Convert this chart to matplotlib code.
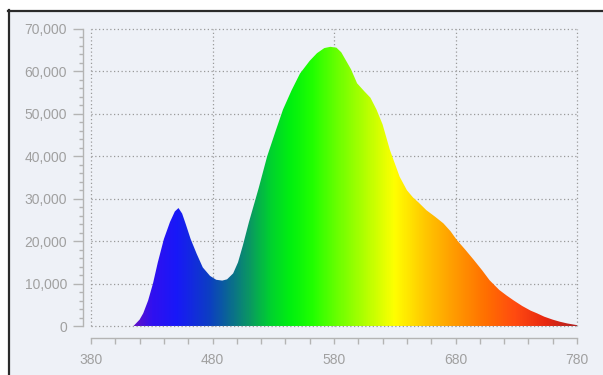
import numpy as np
import matplotlib
matplotlib.use("Agg")
import matplotlib.pyplot as plt
from matplotlib.colors import LinearSegmentedColormap
from matplotlib.patches import Polygon, Rectangle
from matplotlib.ticker import MultipleLocator, FuncFormatter

# ---- data ----
wavelength = [415, 420, 423, 427, 431, 435, 440, 445, 449, 452, 455, 458, 462, 467,
              472, 478, 483, 488, 492, 497, 501, 505, 510, 514, 518, 525, 532, 538,
              545, 552, 560, 566, 572, 577, 582, 586, 590, 594, 599, 605, 610, 615,
              620, 626, 634, 640, 645, 650, 656, 663, 670, 676, 681, 688, 695, 702,
              708, 716, 722, 728, 735, 742, 747, 753, 760, 766, 772, 780]
intensity = [0, 1500, 3000, 6000, 10000, 15000, 20500, 24500, 27000, 27800, 26500,
             24000, 20500, 17000, 13800, 11800, 10900, 10700, 11000, 12400, 15000,
             19000, 24500, 28500, 32500, 40000, 46000, 51000, 55500, 59500, 62500,
             64300, 65500, 65800, 65600, 64500, 62500, 60500, 57200, 55300, 53800,
             51000, 47500, 41500, 35200, 32000, 30300, 29000, 27300, 25800, 24200,
             22300, 20300, 18000, 15600, 13100, 10800, 8500, 7200, 6000, 4700, 3600,
             3000, 2200, 1500, 1000, 600, 200]

x_ticks = [380, 480, 580, 680, 780]
y_ticks = [0, 10000, 20000, 30000, 40000, 50000, 60000, 70000]

# colour stops of the spectral gradient (wavelength, colour)
stop_wl = [380, 415, 430, 450, 478, 494, 511, 527, 544, 562, 580, 605, 630, 655,
           680, 705, 730, 755, 780]
stop_col = ["#6010c8", "#6010c8", "#3010f0", "#1818f8", "#0c40c0", "#0a6a90",
            "#0a9a60", "#00d030", "#00f010", "#20ff00", "#60ff00", "#b0ff00",
            "#ffff00", "#ffc800", "#ff9a00", "#ff7000", "#ff4a10", "#e82810",
            "#b02020"]

BG = "#eef1f7"
TXT = "#a0a0a0"
AX = "#b4b4b4"

fig = plt.figure(figsize=(6.03, 3.75), dpi=100)
fig.patch.set_facecolor("white")
# framed panel background with dark top/left border
fig.patches.append(Rectangle((8 / 603, 0), 1, 1 - 10 / 375, transform=fig.transFigure,
                             facecolor=BG, edgecolor="none", zorder=-5))
fig.lines.append(plt.Line2D([8 / 603, 1], [1 - 11 / 375, 1 - 11 / 375],
                            transform=fig.transFigure, color="#2a2a2a", lw=1.6,
                            zorder=-4))
fig.lines.append(plt.Line2D([9 / 603, 9 / 603], [0, 1 - 10 / 375],
                            transform=fig.transFigure, color="#2a2a2a", lw=1.6,
                            zorder=-4))

ax = fig.add_axes([91 / 603, 1 - 326 / 375, (577 - 91) / 603, (326 - 29) / 375])
ax.set_zorder(1)
ax.set_facecolor("none")
ax.set_xlim(380, 780)
ax.set_ylim(0, 70000)

# gradient fill clipped to the spectrum
pos = [(w - 380) / 400 for w in stop_wl]
cmap = LinearSegmentedColormap.from_list("spec", list(zip(pos, stop_col)))
grad = np.linspace(380, 780, 800).reshape(1, -1)
im = ax.imshow(grad, extent=(380, 780, 0, 70000), aspect="auto", cmap=cmap,
               vmin=380, vmax=780, origin="lower", zorder=2, interpolation="bilinear")
verts = [(wavelength[0], 0)] + list(zip(wavelength, intensity)) + [(wavelength[-1], 0)]
poly = Polygon(verts, closed=True, facecolor="none", edgecolor="none",
               transform=ax.transData)
ax.add_patch(poly)
im.set_clip_path(poly)

# grid
for xv in x_ticks:
    ax.axvline(xv, color="#9a9a9a", lw=0.9, ls=(0, (1, 2)), zorder=1, clip_on=False)
for yv in y_ticks:
    ax.axhline(yv, color="#9a9a9a", lw=0.9, ls=(0, (1, 2)), zorder=3 if yv == 0 else 1,
               clip_on=False)

# spines
for s in ["top", "right"]:
    ax.spines[s].set_visible(False)
ax.spines["left"].set_position(("outward", 8 * 0.72))
ax.spines["bottom"].set_position(("outward", 12 * 0.72))
for s in ["left", "bottom"]:
    ax.spines[s].set_color(AX)
    ax.spines[s].set_linewidth(1.0)

ax.set_xticks(x_ticks)
ax.set_yticks(y_ticks)
ax.xaxis.set_minor_locator(MultipleLocator(20))
ax.yaxis.set_minor_locator(MultipleLocator(2000))
ax.yaxis.set_major_formatter(FuncFormatter(lambda v, p: f"{int(v):,}"))

ax.tick_params(axis="y", which="major", length=7.2, width=1, color=AX, pad=4.3,
               labelsize=10, labelcolor=TXT)
ax.tick_params(axis="y", which="minor", length=2.9, width=1, color=AX)
ax.tick_params(axis="x", which="major", length=4, width=1, color=AX, pad=7,
               labelsize=10, labelcolor=TXT)
ax.tick_params(axis="x", which="minor", length=4, width=1, color=AX)
for lab in ax.get_xticklabels() + ax.get_yticklabels():
    lab.set_family(["Liberation Sans", "DejaVu Sans"])

fig.savefig("out.png", dpi=100, facecolor=fig.get_facecolor())
